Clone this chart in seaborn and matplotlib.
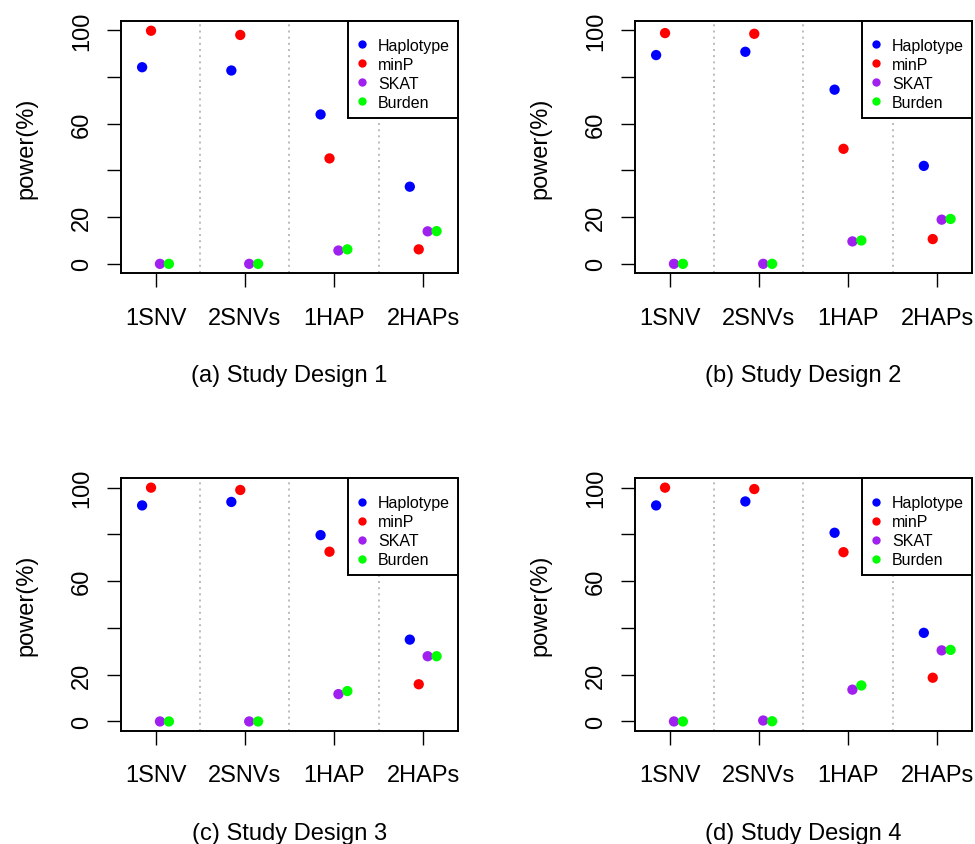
import pandas as pd
import seaborn as sns
import matplotlib.pyplot as plt

# scenarios on the x axis and the four tests
scenarios = ['1SNV', '2SNVs', '1HAP', '2HAPs']
methods = ['Haplotype', 'minP', 'SKAT', 'Burden']
colors = ['#0000FF', '#FF0000', '#A020F0', '#00FF00']

# power (%) per design, rows follow methods, columns follow scenarios
design1 = [[84.1, 82.7, 63.9, 33.0],
           [99.7, 97.9, 45.1, 6.2],
           [0.0, 0.0, 5.7, 13.9],
           [0.0, 0.0, 6.2, 14.0]]
design2 = [[89.3, 90.7, 74.5, 41.9],
           [98.7, 98.4, 49.2, 10.6],
           [0.0, 0.0, 9.6, 18.9],
           [0.0, 0.0, 10.0, 19.2]]
design3 = [[92.4, 93.9, 79.7, 35.0],
           [100.0, 99.0, 72.6, 15.9],
           [0.0, 0.0, 11.7, 27.9],
           [0.0, 0.0, 13.0, 27.9]]
design4 = [[92.4, 94.1, 80.7, 37.9],
           [100.0, 99.4, 72.4, 18.7],
           [0.0, 0.4, 13.6, 30.4],
           [0.0, 0.1, 15.4, 30.6]]

captions = ['(a) Study Design 1', '(b) Study Design 2',
            '(c) Study Design 3', '(d) Study Design 4']
designs = [design1, design2, design3, design4]

offsets = [-0.15, -0.05, 0.05, 0.15]

sns.set_style('white')
plt.rcParams['font.family'] = ['Liberation Sans', 'DejaVu Sans']
plt.rcParams['text.color'] = 'black'
plt.rcParams['axes.labelcolor'] = 'black'
plt.rcParams['xtick.color'] = 'black'
plt.rcParams['ytick.color'] = 'black'

fig = plt.figure(figsize=(9.75, 8.45), dpi=100)

# axes boxes in pixels: left, top
W, H = 975, 845
boxes = [(120.7, 21.7), (634.7, 21.7), (120.7, 479.3), (634.7, 479.3)]
aw, ah = 337.3, 252.5

for k in range(4):
    left, top = boxes[k]
    ax = fig.add_axes([left / W, 1 - (top + ah) / H, aw / W, ah / H])

    rows = []
    for i, m in enumerate(methods):
        for j, s in enumerate(scenarios):
            rows.append({'pos': j + 1 + offsets[i], 'power': designs[k][i][j], 'method': m})
    df = pd.DataFrame(rows)

    for xv in [1.5, 2.5, 3.5]:
        ax.axvline(xv, color='#b0b0b0', linestyle=(0, (1.2, 2.5)), linewidth=1.2, zorder=0)

    sns.scatterplot(data=df, x='pos', y='power', hue='method', hue_order=methods,
                    palette=colors, s=55, linewidth=0, ax=ax, legend=False, zorder=3)

    ax.set_xlim(0.61, 4.39)
    ax.set_ylim(-4, 104)
    ax.set_xticks([1, 2, 3, 4])
    ax.set_xticklabels(scenarios, fontsize=17)
    ax.set_yticks([0, 20, 40, 60, 80, 100])
    ax.set_yticklabels(['0', '20', '', '60', '', '100'], fontsize=17,
                       rotation=90, va='center')
    ax.tick_params(axis='both', direction='out', length=10, width=1.0,
                   color='black', bottom=True, left=True)
    ax.tick_params(axis='x', pad=14)
    ax.tick_params(axis='y', pad=10)
    ax.set_xlabel('')
    ax.set_ylabel('power(%)', fontsize=17, labelpad=24)
    for sp in ax.spines.values():
        sp.set_color('black')
        sp.set_linewidth(1.4)

    handles = [plt.Line2D([], [], marker='o', linestyle='', markersize=6,
                          markerfacecolor=c, markeredgewidth=0) for c in colors]
    leg = ax.legend(handles, methods, loc='upper right', fontsize=11.5,
                    frameon=True, fancybox=False, framealpha=1, edgecolor='black',
                    borderaxespad=0, handlelength=0.8, handletextpad=0.6,
                    labelspacing=0.25, borderpad=0.5,
                    title=' ', title_fontsize=4)
    leg.get_frame().set_linewidth(1.4)

    fig.text((left + aw / 2) / W, 1 - (top + ah + 102) / H, captions[k],
             ha='center', va='center', fontsize=17)

fig.savefig('out.png', dpi=100)
